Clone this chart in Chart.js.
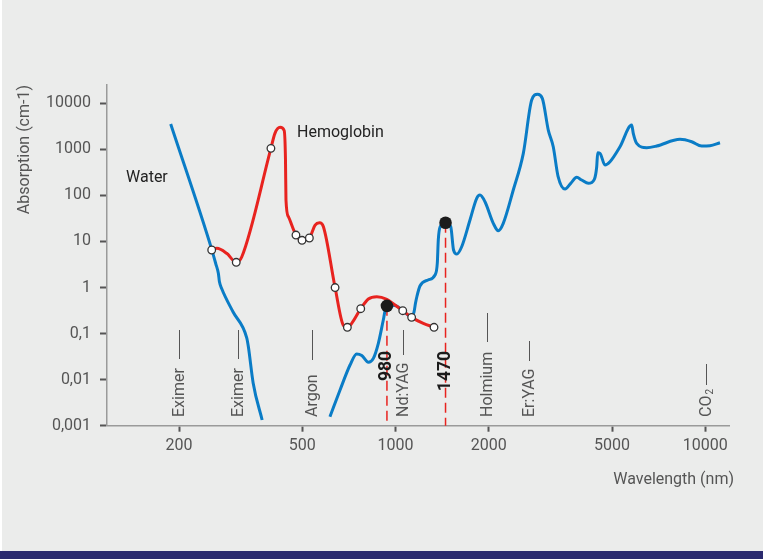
<!DOCTYPE html>
<html lang="en">
<head>
  <meta charset="UTF-8" />
  <title>Absorption of water and hemoglobin</title>
  <style>
    html, body { margin: 0; padding: 0; }
    body { width: 763px; height: 559px; background: #ebeceb; position: relative; overflow: hidden; }
    #edge { position: absolute; left: 0; top: 0; width: 2px; height: 551px; background: #fff; }
    #band { position: absolute; left: 0; bottom: 0; width: 763px; height: 8px; background: #2a2a6e; }
    #wrap { position: absolute; left: 0; top: 0; }
  </style>
</head>
<body>
<div id="edge"></div>
<div id="wrap"><canvas id="chart" width="763" height="559"></canvas></div>
<div id="band"></div>

<script src="https://cdn.jsdelivr.net/npm/chart.js"></script>
<script>
// water, UV part (nm, 1/cm)
const waterUvNm  = [188, 255, 263, 268, 270, 275, 299, 331, 335, 347, 371];
const waterUvAbs = [3550, 6.76, 3.24, 2.02, 1.35, 0.93, 0.294, 0.080, 0.051, 0.0085, 0.00133];

// water, visible + IR part
const waterIrNm = [614, 662, 713, 749, 778, 817, 848, 880, 913, 934,
  996, 1057, 1122, 1147, 1160, 1173, 1199, 1273, 1341, 1364,
  1374, 1392, 1447, 1507, 1539, 1577, 1635, 1739, 1828, 1873,
  1944, 2068, 2146, 2227, 2399, 2585, 2751, 2872, 2977, 3112,
  3229, 3345, 3524, 3677, 3844, 3989, 4191, 4382, 4460, 4493,
  4571, 4744, 4922, 5303, 5785, 5853, 6003, 6467, 6966, 8284,
  9036, 9732, 10350, 11150];
const waterIrAbs = [0.00157, 0.00596, 0.0208, 0.0361, 0.0334, 0.0238, 0.0290, 0.0615, 0.197, 0.397,
  0.407, 0.309, 0.235, 0.294, 0.461, 0.655, 1.08, 1.46, 1.87, 3.41,
  10.8, 20.6, 25.5, 20.9, 6.53, 5.35, 7.69, 29.2, 86.5, 102,
  73.0, 24.8, 17.1, 24.8, 131, 820, 11780, 15670, 12830, 2630,
  1140, 264, 138, 183, 247, 216, 183, 224, 420, 845,
  820, 457, 539, 1140, 3377, 2230, 1352, 1086, 1182, 1652,
  1466, 1182, 1199, 1393];

// hemoglobin
const hbNm  = [255, 265, 285, 306, 319, 396, 408, 424, 437, 441.3, 442.9, 451, 477, 499, 527, 550,
  568, 585, 638, 678, 699, 722, 772, 817, 870, 937, 996, 1055, 1127, 1229, 1331];
const hbAbs = [6.53, 7.10, 5.53, 3.53, 4.67, 1054, 2230, 3010, 2565, 587, 79.4, 34.5, 13.8, 10.6, 11.9, 22.8,
  25.5, 20.9, 1.00, 0.153, 0.137, 0.167, 0.347, 0.564, 0.632, 0.555, 0.417, 0.314, 0.225, 0.167, 0.137];
const hbOpen = [0, 3, 5, 12, 13, 14, 18, 20, 22, 27, 28, 30];   // indexes with open circles

// diode laser points (980 / 1470)
const dotLabels = ['980', '1470'];
const dotNm  = [938, 1450];
const dotAbs = [0.40, 25.5];

// laser types along the bottom
const laserNames = ['Eximer', 'Eximer', 'Argon', 'Nd:YAG', 'Holmium', 'Er:YAG', 'CO2'];
const laserNm    = [200, 311, 539, 1055, 1978, 2690, 10050];

const xTicks = [200, 500, 1000, 2000, 5000, 10000];
const xTickLabels = ['200', '500', '1000', '2000', '5000', '10000'];
const yTicks = [0.001, 0.01, 0.1, 1, 10, 100, 1000, 10000];
const yTickLabels = ['0,001', '0,01', '0,1', '1', '10', '100', '1000', '10000'];

const BLUE = '#0a7cc6';
const RED = '#e8231f';
const FONT = 'Roboto, "Liberation Sans", sans-serif';
Chart.defaults.font.family = FONT;

// small tick lines above each laser name (pixel extents)
const laserLineTop    = [330, 330, 330, 330, 313, 341, 364];
const laserLineBottom = [359, 359, 360, 355, 342, 361, 385];

function vText(ctx, str, x, y, align) {
  ctx.save();
  ctx.translate(x, y);
  ctx.rotate(-Math.PI / 2);
  ctx.textAlign = align;
  ctx.textBaseline = 'middle';
  ctx.fillText(str, 0, 0);
  ctx.restore();
}

const annotations = {
  id: 'annotations',
  beforeDatasetsDraw(chart) {
    const { ctx, scales: { x, y } } = chart;
    ctx.save();
    ctx.strokeStyle = RED;
    ctx.lineWidth = 1.5;
    ctx.setLineDash([10, 5]);
    dotNm.forEach((nm, i) => {
      const px = x.getPixelForValue(nm);
      ctx.beginPath();
      ctx.moveTo(px, y.getPixelForValue(dotAbs[i]));
      ctx.lineTo(px, y.bottom);
      ctx.stroke();
    });
    ctx.restore();
  },
  afterDraw(chart) {
    const { ctx, scales: { x } } = chart;
    ctx.save();

    // laser markers
    ctx.strokeStyle = '#555';
    ctx.lineWidth = 1;
    ctx.fillStyle = '#555';
    ctx.font = '16px ' + FONT;
    laserNames.forEach((name, i) => {
      const px = Math.round(x.getPixelForValue(laserNm[i])) + 0.5;
      ctx.beginPath();
      ctx.moveTo(px, laserLineTop[i]);
      ctx.lineTo(px, laserLineBottom[i]);
      ctx.stroke();
      if (name === 'CO2') {
        ctx.save();
        ctx.translate(px, 417);
        ctx.rotate(-Math.PI / 2);
        ctx.textAlign = 'left';
        ctx.textBaseline = 'middle';
        ctx.fillText('CO', 0, 0);
        const w = ctx.measureText('CO').width;
        ctx.font = '10px ' + FONT;
        ctx.fillText('2', w + 1, 4);
        ctx.restore();
        ctx.font = '16px ' + FONT;
      } else {
        vText(ctx, name, px, 417, 'left');
      }
    });

    // bold wavelength labels
    ctx.fillStyle = '#1b1b1b';
    ctx.font = 'bold 17.5px ' + FONT;
    dotLabels.forEach((lab, i) => {
      vText(ctx, lab, x.getPixelForValue(dotNm[i]), 351, 'right');
    });

    // curve names
    ctx.fillStyle = '#222';
    ctx.font = '16px ' + FONT;
    ctx.textAlign = 'left';
    ctx.textBaseline = 'middle';
    ctx.fillText('Water', 126, 178);
    ctx.fillText('Hemoglobin', 297, 133);

    // axis titles
    ctx.fillStyle = '#555';
    vText(ctx, 'Absorption (cm-1)', 24.5, 85, 'right');
    ctx.textAlign = 'right';
    ctx.fillText('Wavelength (nm)', 734, 480);
    ctx.restore();
  }
};

const pts = (xs, ys) => xs.map((v, i) => ({ x: v, y: ys[i] }));

new Chart(document.getElementById('chart'), {
  type: 'line',
  data: {
    datasets: [
      {
        label: 'laser', data: pts(dotNm, dotAbs), showLine: false,
        pointRadius: 6.3, pointBackgroundColor: '#1b1b1b', pointBorderWidth: 0, order: 0
      },
      {
        label: 'hb markers', data: hbOpen.map(i => ({ x: hbNm[i], y: hbAbs[i] })), showLine: false,
        pointRadius: 3.8, pointBackgroundColor: '#fff', pointBorderColor: '#333', pointBorderWidth: 1.3, order: 1
      },
      {
        label: 'Hemoglobin', data: pts(hbNm, hbAbs), borderColor: RED, borderWidth: 3,
        pointRadius: 0, cubicInterpolationMode: 'monotone', order: 2
      },
      {
        label: 'Water UV', data: pts(waterUvNm, waterUvAbs), borderColor: BLUE, borderWidth: 3,
        pointRadius: 0, cubicInterpolationMode: 'monotone', order: 3
      },
      {
        label: 'Water', data: pts(waterIrNm, waterIrAbs), borderColor: BLUE, borderWidth: 3,
        pointRadius: 0, cubicInterpolationMode: 'monotone', order: 3
      }
    ]
  },
  options: {
    responsive: false,
    animation: false,
    layout: { padding: { top: 85, right: 33.7, left: 0, bottom: 0 } },
    plugins: { legend: { display: false }, tooltip: { enabled: false } },
    scales: {
      x: {
        type: 'logarithmic', min: 117.1, max: 11950,
        afterFit: s => { s.height = 133.3; },
        afterBuildTicks: s => { s.ticks = xTicks.map(v => ({ value: v })); },
        ticks: { callback: (v, i) => xTickLabels[i], color: '#555', font: { size: 16 }, padding: 5, maxRotation: 0, autoSkip: false },
        grid: { drawOnChartArea: false, tickLength: 6, tickColor: '#555', tickWidth: 2 },
        border: { color: '#9a9a9a', width: 1.5 }
      },
      y: {
        type: 'logarithmic', min: 0.001, max: 25000,
        afterFit: s => { s.width = 107; },
        afterBuildTicks: s => { s.ticks = yTicks.map(v => ({ value: v })); },
        ticks: { callback: (v, i) => yTickLabels[i], color: '#555', font: { size: 16 }, padding: 9, autoSkip: false },
        grid: { drawOnChartArea: false, tickLength: 7, tickColor: '#555', tickWidth: 2 },
        border: { color: '#9a9a9a', width: 1.5 }
      }
    }
  },
  plugins: [annotations]
});
</script>
</body>
</html>
